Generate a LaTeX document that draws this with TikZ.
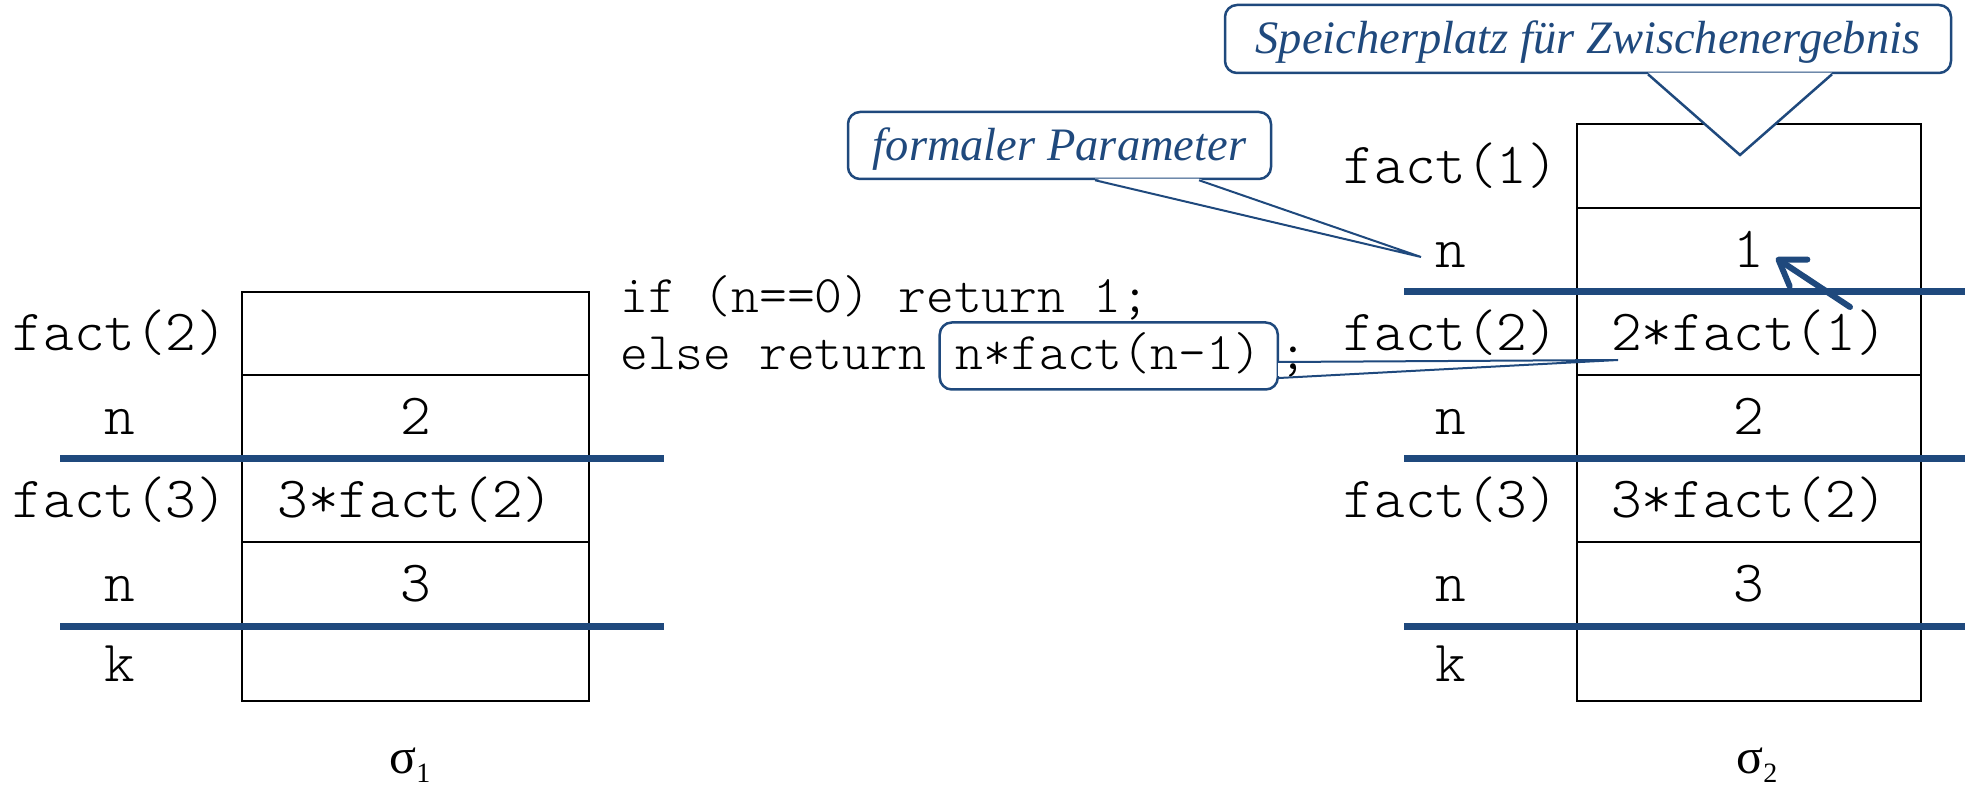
\documentclass[tikz,border=0pt]{standalone}
\usepackage{fontspec}
\setmainfont{Liberation Serif}
\setmonofont{lmmonolt10-regular.otf}
\usepackage{tikz}
\usetikzlibrary{calc}
\usetikzlibrary{arrows.meta}
\definecolor{stackblue}{RGB}{31,73,125}
\newcommand{\lowidx}[1]{\raisebox{-9pt}{\fontsize{28}{30}\selectfont #1}}
\tikzstyle{cell}=[
    font=\fontsize{58.3}{66}\selectfont\ttfamily,
    inner sep=0pt,
    text height=35pt,
    text depth=0pt
]
\tikzstyle{codetext}=[
    font=\fontsize{53}{60}\selectfont\ttfamily,
    inner sep=0pt,
    anchor=base west
]
\tikzstyle{bubble}=[
    draw=stackblue,
    line width=2.5pt,
    rounded corners=12pt,
    fill=white
]
\tikzstyle{bubbletext}=[
    text=stackblue,
    font=\fontsize{46.5}{54}\selectfont\itshape,
    text height=30pt,
    text depth=0pt,
    inner sep=0pt
]
\tikzstyle{bubbleline}=[stackblue, line width=2pt, line join=miter]
\tikzstyle{cellframe}=[line width=2.5pt]
\tikzstyle{stackline}=[stackblue, line width=7pt]
\tikzstyle{sigma}=[font=\fontsize{50}{60}\selectfont, inner sep=0pt, anchor=base]

\begin{document}
\begin{tikzpicture}[x=1pt,y=1pt]
        \useasboundingbox (0,0) rectangle (1965,785);

        % sigma_1
        \draw[cellframe] (242,84) rectangle (589,493);
        \foreach \y in {410,243}
            \draw[cellframe] (242,\y) -- (589,\y);
        \draw[stackline] (60,326) -- (664,326);
        \draw[stackline] (60,159) -- (664,159);

        \node[cell] (lf2) at (120,451.5) {fact(2)};
        \node[cell] (ln2) at (120,368) {n};
        \node[cell] (lf3) at (120,284.5) {fact(3)};
        \node[cell] (ln3) at (120,201) {n};
        \node[cell] (lk) at (120,121.5) {k};

        \node[cell] (lv2) at (415.5,368) {2};
        \node[cell] (lv3) at (415.5,284.5) {3*fact(2)};
        \node[cell] (lv4) at (415.5,201) {3};

        \node[sigma] (s1) at (410,12) {σ\lowidx{1}};

        % sigma_2
        \draw[cellframe] (1577,84) rectangle (1921,661);
        \foreach \y in {577,410,243}
            \draw[cellframe] (1577,\y) -- (1921,\y);
        \foreach \y in {493,326,159}
            \draw[stackline] (1404,\y) -- (1965,\y);

        \node[cell] (rf1) at (1451,619) {fact(1)};
        \node[cell] (rn1) at (1451,535) {n};
        \node[cell] (rf2) at (1451,451.5) {fact(2)};
        \node[cell] (rn2) at (1451,368) {n};
        \node[cell] (rf3) at (1451,284.5) {fact(3)};
        \node[cell] (rn3) at (1451,201) {n};
        \node[cell] (rk) at (1451,121.5) {k};

        \node[cell] (rv1) at (1749,535) {1};
        \node[cell] (rv2) at (1749,451.5) {2*fact(1)};
        \node[cell] (rv3) at (1749,368) {2};
        \node[cell] (rv4) at (1749,284.5) {3*fact(2)};
        \node[cell] (rv5) at (1749,201) {3};

        \node[sigma] (s2) at (1757,12) {σ\lowidx{2}};

        % code
        \node[codetext] (if) at (620,472) {if (n==0) return 1;};
        \node[codetext] (else) at (620,415) {else return};
        \node[bubble, codetext, inner xsep=16pt, inner ysep=10.5pt,
              text height=37pt, text depth=9pt]
            (rec) at ($(else.base east)+(12,0)$) {n*fact(n-1)};
        \node[codetext] (semi) at (rec.base east) {;};

        \coordinate (rtip) at (1618,425);
        \draw[white, line width=3pt] ($(rec.east)+(0,-7.5)$) -- ($(rec.east)+(0,-20.5)$);
        \draw[bubbleline] ($(rec.east)+(0,-6)$) -- (rtip) -- ($(rec.east)+(0,-22)$);

        % notes
        \node[bubble, bubbletext, minimum width=423pt, minimum height=67pt]
            (param) at (1059.5,639.5) {formaler Parameter};
        \coordinate (ptip) at (1421,528);
        \fill[white] ($(param.south)+(35.5,1.5)$) -- (ptip) -- ($(param.south)+(139.5,1.5)$) -- cycle;
        \draw[bubbleline] ($(param.south)+(35.5,0)$) -- (ptip) -- ($(param.south)+(139.5,0)$);

        \node[bubble, bubbletext, minimum width=726pt, minimum height=68pt]
            (store) at (1588,746) {Speicherplatz für Zwischenergebnis};
        \coordinate (stip) at (1740,630);
        \fill[white] ($(store.south)+(60,1.5)$) -- (stip) -- ($(store.south)+(244,1.5)$) -- cycle;
        \draw[bubbleline, line width=2.5pt] ($(store.south)+(60,0)$) -- (stip) -- ($(store.south)+(244,0)$);

        % result goes back up
        \coordinate (atail) at (1850,478);
        \coordinate (ahead) at (1776,527);
        \draw[stackblue, line width=6pt, line cap=round,
              -{Straight Barb[length=24pt,width=32pt,round]}] (atail) -- (ahead);

    \end{tikzpicture}
\end{document}
